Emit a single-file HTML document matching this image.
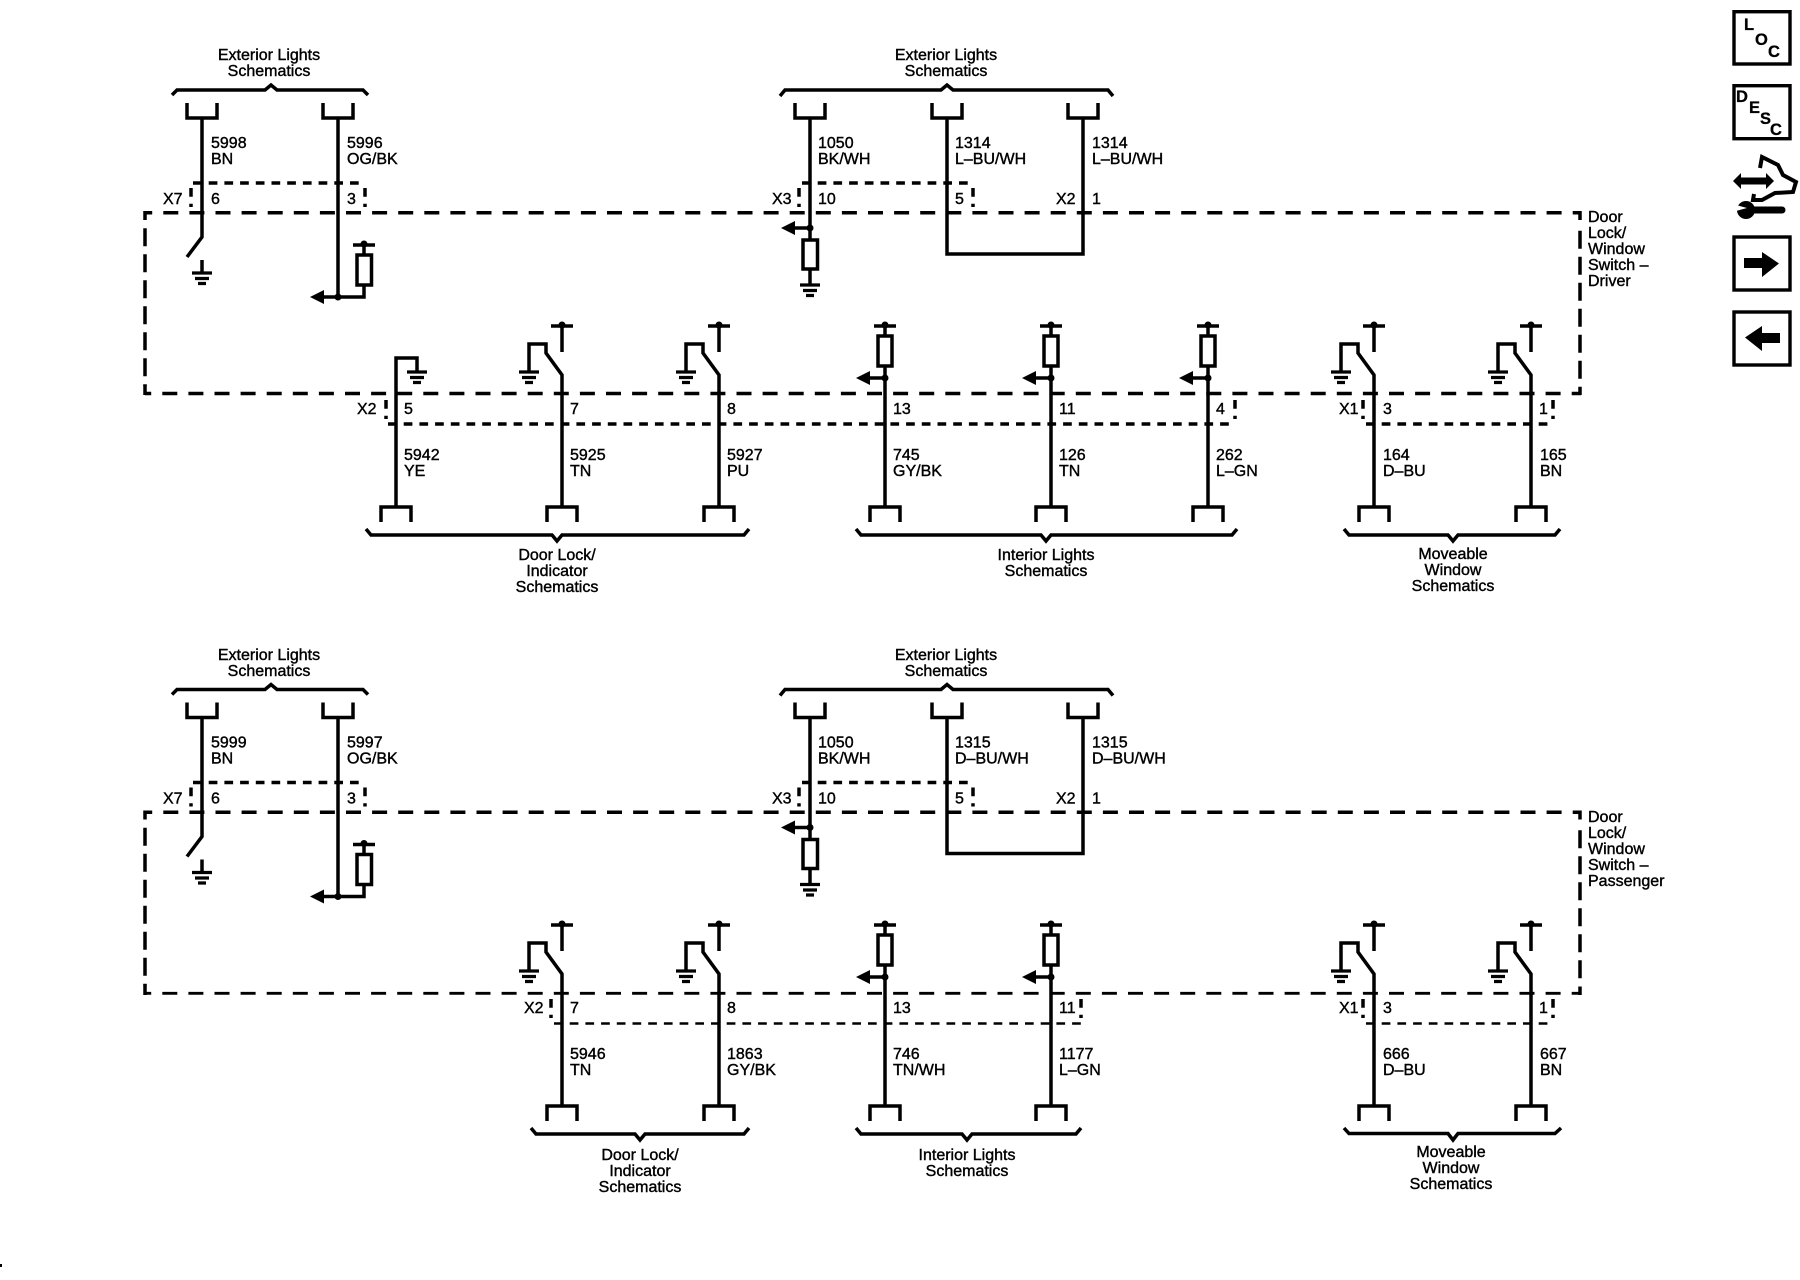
<!DOCTYPE html>
<html lang="en">
<head>
<meta charset="utf-8">
<title>Door Lock/Window Switch Schematic</title>
<style>
html,body{margin:0;padding:0;background:#fff;width:1800px;height:1280px;overflow:hidden}
svg{display:block}
text{font-family:"Liberation Sans",Arial,sans-serif;font-size:16px;fill:#000;stroke:#000;stroke-width:.4px}
.m{text-anchor:middle}
.b{font-weight:bold;font-size:16.5px;stroke-width:.3px}
.w{fill:none;stroke:#000;stroke-width:3.5;stroke-linejoin:miter}
.g{fill:none;stroke:#000;stroke-width:3.2}
.d{fill:none;stroke:#000;stroke-width:3.5}
.t{stroke-dasharray:8.7 7}
.dot{fill:#000;stroke:none}
</style>
</head>
<body>
<svg width="1800" height="1280" viewBox="0 0 1800 1280" xmlns="http://www.w3.org/2000/svg">
<defs>
  <g id="gnd">
    <path class="g" d="M-10,0H10M-7,5.5H7M-4,10.5H4"/>
  </g>
  <g id="conU"><path class="w" d="M-15,103V118H15V103"/></g>
  <g id="conD"><path class="w" d="M-15,522V507H15V522"/></g>
  <g id="sw">
    <path class="w" d="M0,326V352M-11,326H11"/>
    <circle class="dot" cx="0" cy="325" r="3.5"/>
    <path class="w" d="M0,507V375L-16,353V344H-33V372"/>
    <use href="#gnd" x="-33" y="372"/>
    <use href="#conD"/>
  </g>
  <g id="ra">
    <path class="w" d="M-11,326H11M0,326V336"/>
    <circle class="dot" cx="0" cy="325" r="3.5"/>
    <rect class="w" x="-7" y="336" width="14" height="30"/>
    <path class="w" d="M0,366V507M0,378H-15"/>
    <polygon class="dot" points="-29,378 -15,371 -15,385"/>
    <circle class="dot" cx="0" cy="378" r="3.5"/>
    <use href="#conD"/>
  </g>
  <g id="upper">
    <path class="d" d="M145,212.7H1581" stroke-dasharray="15 11.1" stroke-dashoffset="7.8"/>
    <path class="d" d="M145,228.3V386" stroke-dasharray="18 8"/>
    <path class="d" d="M145,211V220M1580,211V220"/>
    <path class="d" d="M1580,230.7V380" stroke-dasharray="18 8"/>
    <path class="w" d="M172,95L177,90H265L271,85L277,90H363L368,95"/>
    <use href="#conU" x="202"/>
    <use href="#conU" x="338"/>
    <path class="w" d="M202,118V237L187,257"/>
    <path class="w" d="M202,260V273"/>
    <use href="#gnd" x="202" y="273"/>
    <path class="w" d="M338,118V297"/>
    <path class="w" d="M353,245H375M364,245V255"/>
    <circle class="dot" cx="364" cy="244" r="3.5"/>
    <rect class="w" x="357" y="255" width="14.5" height="30"/>
    <path class="w" d="M364,285V297H324"/>
    <polygon class="dot" points="310,297 324,290 324,304"/>
    <circle class="dot" cx="338" cy="297" r="3.5"/>
    <path class="d t" d="M193,183H365"/>
    <path class="d t" d="M191,188V207M365,188V207"/>
    <path class="w" d="M780,96L785,90H941L947,85L953,90H1108L1113,96"/>
    <use href="#conU" x="810"/>
    <use href="#conU" x="947"/>
    <use href="#conU" x="1083"/>
    <path class="w" d="M810,118V240"/>
    <path class="w" d="M795,228H810"/>
    <polygon class="dot" points="781,228 795,221 795,235"/>
    <circle class="dot" cx="810" cy="228" r="3.5"/>
    <rect class="w" x="803" y="240" width="14.5" height="29"/>
    <path class="w" d="M810,269V285"/>
    <use href="#gnd" x="810" y="285"/>
    <path class="w" d="M947,118V254H1083V118"/>
    <path class="d t" d="M802,183H972"/>
    <path class="d t" d="M799,188V207M973,188V207"/>
  </g>
</defs>

<!-- TOP PANEL -->
<use href="#upper"/>
<path class="d" d="M145,393.5H1581" stroke-dasharray="15 11.1" stroke-dashoffset="8.8"/>
<path class="d" d="M1580,386.7V395M145,385V395"/>

<path class="w" d="M396,507V358H417V372"/>
<use href="#gnd" x="417" y="372"/>
<use href="#conD" x="396"/>
<use href="#sw" x="562"/>
<use href="#sw" x="719"/>
<use href="#ra" x="885"/>
<use href="#ra" x="1051"/>
<use href="#ra" x="1208"/>
<use href="#sw" x="1374"/>
<use href="#sw" x="1531"/>

<path class="d t" d="M388,424H1235"/>
<path class="d t" d="M386,400V419M1235,400V419"/>
<path class="d t" d="M1366,424H1552"/>
<path class="d t" d="M1363,400V419M1553,400V419"/>

<path class="w" d="M366,529L371,535H552L557,541L562,535H744L749,529"/>
<path class="w" d="M856,529L861,535H1041L1046,541L1051,535H1232L1237,529"/>
<path class="w" d="M1344,529L1349,535H1448L1453,541L1458,535H1555L1560,529"/>

<text class="m" x="269" y="60">Exterior Lights</text>
<text class="m" x="269" y="76">Schematics</text>
<text class="m" x="946" y="60">Exterior Lights</text>
<text class="m" x="946" y="76">Schematics</text>

<text x="211" y="148">5998</text><text x="211" y="164">BN</text>
<text x="347" y="148">5996</text><text x="347" y="164">OG/BK</text>
<text x="818" y="148">1050</text><text x="818" y="164">BK/WH</text>
<text x="955" y="148">1314</text><text x="955" y="164">L–BU/WH</text>
<text x="1092" y="148">1314</text><text x="1092" y="164">L–BU/WH</text>

<text x="163" y="204">X7</text><text x="211" y="204">6</text><text x="347" y="204">3</text>
<text x="772" y="204">X3</text><text x="818" y="204">10</text><text x="955" y="204">5</text>
<text x="1056" y="204">X2</text><text x="1092" y="204">1</text>

<text x="1588" y="222">Door</text>
<text x="1588" y="238">Lock/</text>
<text x="1588" y="254">Window</text>
<text x="1588" y="270">Switch –</text>
<text x="1588" y="286">Driver</text>

<text x="357" y="414">X2</text><text x="404" y="414">5</text>
<text x="570" y="414">7</text><text x="727" y="414">8</text>
<text x="893" y="414">13</text><text x="1059" y="414">11</text><text x="1216" y="414">4</text>
<text x="1339" y="414">X1</text><text x="1383" y="414">3</text><text x="1539" y="414">1</text>

<text x="404" y="460">5942</text><text x="404" y="476">YE</text>
<text x="570" y="460">5925</text><text x="570" y="476">TN</text>
<text x="727" y="460">5927</text><text x="727" y="476">PU</text>
<text x="893" y="460">745</text><text x="893" y="476">GY/BK</text>
<text x="1059" y="460">126</text><text x="1059" y="476">TN</text>
<text x="1216" y="460">262</text><text x="1216" y="476">L–GN</text>
<text x="1383" y="460">164</text><text x="1383" y="476">D–BU</text>
<text x="1540" y="460">165</text><text x="1540" y="476">BN</text>

<text class="m" x="557" y="560">Door Lock/</text>
<text class="m" x="557" y="576">Indicator</text>
<text class="m" x="557" y="592">Schematics</text>
<text class="m" x="1046" y="560">Interior Lights</text>
<text class="m" x="1046" y="576">Schematics</text>
<text class="m" x="1453" y="559">Moveable</text>
<text class="m" x="1453" y="575">Window</text>
<text class="m" x="1453" y="591">Schematics</text>

<!-- BOTTOM PANEL -->
<use href="#upper" y="599.5"/>
<path class="d" style="stroke-width:2.9" d="M145,993.3H1581" stroke-dasharray="15 11.1" stroke-dashoffset="8.8"/>
<path class="d" d="M1580,986.5V995M145,984.5V995"/>

<use href="#sw" x="562" y="599"/>
<use href="#sw" x="719" y="599"/>
<use href="#ra" x="885" y="599"/>
<use href="#ra" x="1051" y="599"/>
<use href="#sw" x="1374" y="599"/>
<use href="#sw" x="1531" y="599"/>

<path class="d t" style="stroke-width:2.5" d="M554,1023.5H1081"/>
<path class="d t" d="M551,999V1018M1081,999V1018"/>
<path class="d t" style="stroke-width:2.5" d="M1366,1023.5H1552"/>
<path class="d t" d="M1363,999V1018M1553,999V1018"/>

<path class="w" d="M531,1128L536,1134H635L640,1140L645,1134H744L749,1128"/>
<path class="w" d="M856,1128L861,1134H962L967,1140L972,1134H1076L1081,1128"/>
<path class="w" d="M1344,1128L1349,1133.5H1448L1453,1140L1458,1133.5H1555L1561,1128"/>

<text class="m" x="269" y="660">Exterior Lights</text>
<text class="m" x="269" y="676">Schematics</text>
<text class="m" x="946" y="660">Exterior Lights</text>
<text class="m" x="946" y="676">Schematics</text>

<text x="211" y="747.5">5999</text><text x="211" y="763.5">BN</text>
<text x="347" y="747.5">5997</text><text x="347" y="763.5">OG/BK</text>
<text x="818" y="747.5">1050</text><text x="818" y="763.5">BK/WH</text>
<text x="955" y="747.5">1315</text><text x="955" y="763.5">D–BU/WH</text>
<text x="1092" y="747.5">1315</text><text x="1092" y="763.5">D–BU/WH</text>

<text x="163" y="803.5">X7</text><text x="211" y="803.5">6</text><text x="347" y="803.5">3</text>
<text x="772" y="803.5">X3</text><text x="818" y="803.5">10</text><text x="955" y="803.5">5</text>
<text x="1056" y="803.5">X2</text><text x="1092" y="803.5">1</text>

<text x="1588" y="822">Door</text>
<text x="1588" y="838">Lock/</text>
<text x="1588" y="854">Window</text>
<text x="1588" y="870">Switch –</text>
<text x="1588" y="886">Passenger</text>

<text x="524" y="1013">X2</text><text x="570" y="1013">7</text><text x="727" y="1013">8</text>
<text x="893" y="1013">13</text><text x="1059" y="1013">11</text>
<text x="1339" y="1013">X1</text><text x="1383" y="1013">3</text><text x="1539" y="1013">1</text>

<text x="570" y="1059">5946</text><text x="570" y="1075">TN</text>
<text x="727" y="1059">1863</text><text x="727" y="1075">GY/BK</text>
<text x="893" y="1059">746</text><text x="893" y="1075">TN/WH</text>
<text x="1059" y="1059">1177</text><text x="1059" y="1075">L–GN</text>
<text x="1383" y="1059">666</text><text x="1383" y="1075">D–BU</text>
<text x="1540" y="1059">667</text><text x="1540" y="1075">BN</text>

<text class="m" x="640" y="1160">Door Lock/</text>
<text class="m" x="640" y="1176">Indicator</text>
<text class="m" x="640" y="1192">Schematics</text>
<text class="m" x="967" y="1160">Interior Lights</text>
<text class="m" x="967" y="1176">Schematics</text>
<text class="m" x="1451" y="1157">Moveable</text>
<text class="m" x="1451" y="1173">Window</text>
<text class="m" x="1451" y="1189">Schematics</text>

<!-- ICONS -->
<rect x="1734" y="11.7" width="56" height="52.3" fill="none" stroke="#000" stroke-width="3.4"/>
<text class="b" x="1744" y="30">L</text>
<text class="b" x="1755" y="45">O</text>
<text class="b" x="1768" y="57">C</text>

<rect x="1734" y="85.7" width="56" height="53" fill="none" stroke="#000" stroke-width="3.4"/>
<text class="b" x="1736" y="102">D</text>
<text class="b" x="1749" y="113">E</text>
<text class="b" x="1760" y="124">S</text>
<text class="b" x="1770" y="135">C</text>

<polygon class="dot" points="1733,181 1741,173 1741,177.5 1766,177.5 1766,173 1774,181 1766,189 1766,184.5 1741,184.5 1741,189"/>
<path fill="none" stroke="#000" stroke-width="4" d="M1760,168L1762,157L1778,165L1783,175L1796,182L1793,192L1775,193L1762,200L1753,200L1754,194"/>
<circle class="dot" cx="1746" cy="210" r="9"/>
<path d="M1746,210H1782" stroke="#000" stroke-width="7" stroke-linecap="round" fill="none"/>
<polygon points="1736,205 1747,208 1736,211" fill="#fff"/>

<rect x="1734" y="237" width="56" height="53" fill="none" stroke="#000" stroke-width="3.4"/>
<polygon class="dot" points="1744,258 1762,258 1762,252 1779,263.5 1762,277 1762,268 1744,268"/>

<rect x="1734" y="312" width="56" height="53" fill="none" stroke="#000" stroke-width="3.4"/>
<polygon class="dot" points="1780,333 1762,333 1762,326 1745,337.5 1762,351 1762,343 1780,343"/>

<rect x="0" y="1264" width="2" height="3" fill="#000"/>
</svg>
</body>
</html>
